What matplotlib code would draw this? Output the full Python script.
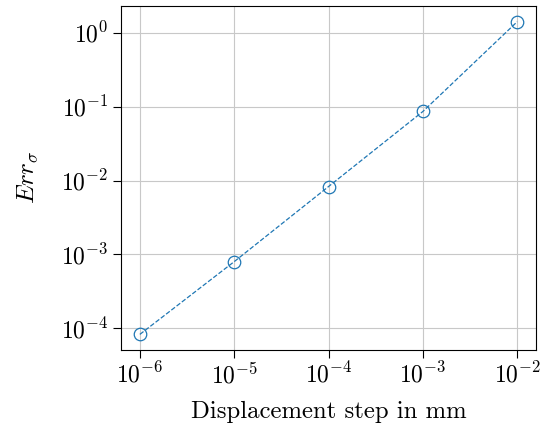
import matplotlib
matplotlib.use("Agg")
import matplotlib.pyplot as plt

plt.rcParams['font.family'] = ['cmr10', 'DejaVu Serif']
plt.rcParams['mathtext.fontset'] = 'cm'
plt.rcParams['axes.formatter.use_mathtext'] = True
plt.rcParams['font.size'] = 17

step = [1e-6, 1e-5, 1e-4, 1e-3, 1e-2]
err = [8.3e-5, 8.0e-4, 8.3e-3, 8.6e-2, 1.41]

fig = plt.figure(figsize=(5.55, 4.30), dpi=100)
ax = fig.add_axes([0.218, 0.186, 0.748, 0.80])
ax.plot(step, err, linestyle='--', linewidth=0.9, marker='o', markersize=9,
        markerfacecolor='none', color='#1f77b4', markeredgewidth=0.9)
ax.set_xscale('log')
ax.set_yscale('log')
ax.minorticks_off()
ax.tick_params(which='major', length=5.5, width=0.8, labelsize=17)
ax.grid(True, color='#c8c8c8', linewidth=0.8)
ax.set_axisbelow(True)
ax.set_xlabel('Displacement step in mm', fontsize=17.8, labelpad=9)
ax.set_ylabel(r'$Err_\sigma$', fontsize=18, labelpad=15)
fig.savefig('out.png', dpi=100)
